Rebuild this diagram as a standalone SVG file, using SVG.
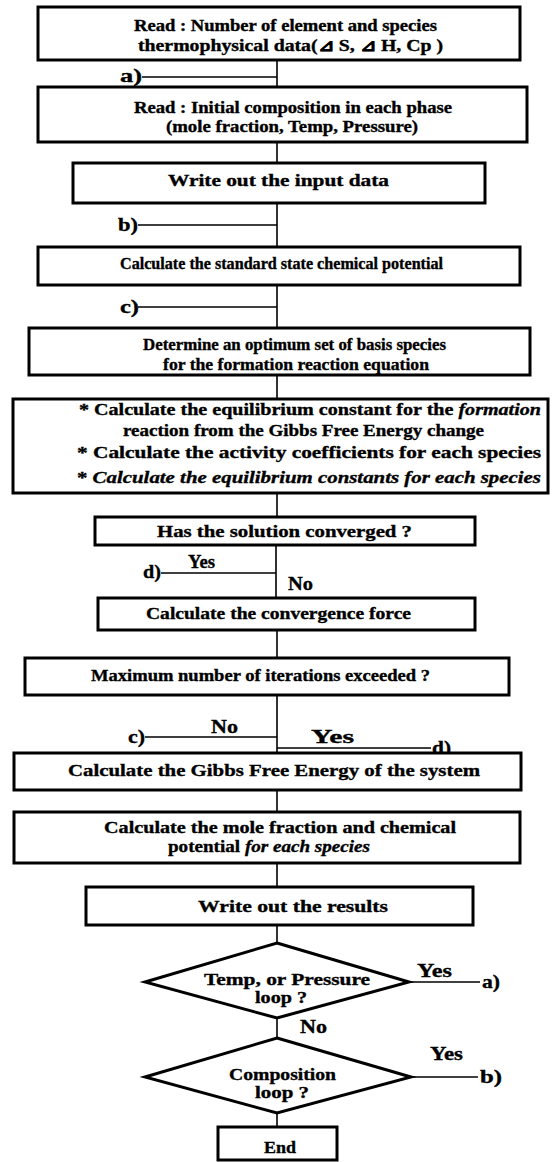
<svg xmlns="http://www.w3.org/2000/svg" width="555" height="1162" viewBox="0 0 555 1162">
<style>
.box{fill:#fff;stroke:#000;stroke-width:3}
.conn{stroke:#000;stroke-width:1.6;fill:none}
.t{font-family:"Liberation Serif","DejaVu Serif",serif;font-weight:bold;font-size:17px;fill:#000;stroke:#000;stroke-width:0.35}
.l{font-size:19px}
.i{font-style:italic}
</style>
<rect width="555" height="1162" fill="#fff"/>
<g id="connectors">
<path class="conn" d="M277 60V87M142 77H277"/>
<path class="conn" d="M277 142V163"/>
<path class="conn" d="M277 203V247M138 225H277"/>
<path class="conn" d="M277 285V328M138 307H277"/>
<path class="conn" d="M277 375V399"/>
<path class="conn" d="M277 493V517"/>
<path class="conn" d="M276 545V598M161 573H276"/>
<path class="conn" d="M277 630V658"/>
<path class="conn" d="M277 695V753M145 737H277M277 748H431"/>
<path class="conn" d="M277 790V812"/>
<path class="conn" d="M277 863V887"/>
<path class="conn" d="M277 925V943"/>
<path class="conn" d="M409 982H480"/>
<path class="conn" d="M277 1018V1038"/>
<path class="conn" d="M411 1077H478"/>
<path class="conn" d="M277 1113V1127"/>
<text class="t l" x="120" y="82" textLength="22" lengthAdjust="spacingAndGlyphs">a)</text>
<text class="t l" x="118" y="231" textLength="20" lengthAdjust="spacingAndGlyphs">b)</text>
<text class="t l" x="120" y="313" textLength="19" lengthAdjust="spacingAndGlyphs">c)</text>
<text class="t l" x="143" y="578" textLength="18" lengthAdjust="spacingAndGlyphs">d)</text>
<text class="t l" x="188" y="568" textLength="27" lengthAdjust="spacingAndGlyphs">Yes</text>
<text class="t l" x="288" y="590" textLength="25" lengthAdjust="spacingAndGlyphs">No</text>
<text class="t l" x="128" y="743" textLength="17" lengthAdjust="spacingAndGlyphs">c)</text>
<text class="t l" x="211" y="733" textLength="27" lengthAdjust="spacingAndGlyphs">No</text>
<text class="t l" x="311" y="743" textLength="43" lengthAdjust="spacingAndGlyphs">Yes</text>
<text class="t l" x="432" y="754" textLength="19" lengthAdjust="spacingAndGlyphs">d)</text>
<text class="t l" x="417" y="977" textLength="35" lengthAdjust="spacingAndGlyphs">Yes</text>
<text class="t l" x="482" y="988" textLength="18" lengthAdjust="spacingAndGlyphs">a)</text>
<text class="t l" x="300" y="1033" textLength="27" lengthAdjust="spacingAndGlyphs">No</text>
<text class="t l" x="430" y="1060" textLength="33" lengthAdjust="spacingAndGlyphs">Yes</text>
<text class="t l" x="480" y="1083" textLength="22" lengthAdjust="spacingAndGlyphs">b)</text>
</g>
<g id="n1">
<rect class="box" x="38" y="7" width="482" height="53"/>
<text class="t" x="134" y="31" textLength="303" lengthAdjust="spacingAndGlyphs">Read : Number of element and species</text>
<text class="t" x="138" y="51" textLength="305" lengthAdjust="spacingAndGlyphs">thermophysical data(⊿ S, ⊿ H, Cp )</text>
</g>
<g id="n2">
<rect class="box" x="38" y="87" width="489" height="55"/>
<text class="t" x="134" y="113" textLength="318" lengthAdjust="spacingAndGlyphs">Read : Initial composition in each phase</text>
<text class="t" x="166" y="132" textLength="252" lengthAdjust="spacingAndGlyphs">(mole fraction, Temp, Pressure)</text>
</g>
<g id="n3">
<rect class="box" x="73" y="163" width="412" height="40"/>
<text class="t" x="168" y="186" textLength="221" lengthAdjust="spacingAndGlyphs">Write out the input data</text>
</g>
<g id="n4">
<rect class="box" x="38" y="247" width="482" height="38"/>
<text class="t" x="120" y="269" textLength="323" lengthAdjust="spacingAndGlyphs">Calculate the standard state chemical potential</text>
</g>
<g id="n5">
<rect class="box" x="29" y="328" width="501" height="47"/>
<text class="t" x="143" y="350" textLength="303" lengthAdjust="spacingAndGlyphs">Determine an optimum set of basis species</text>
<text class="t" x="163" y="370" textLength="266" lengthAdjust="spacingAndGlyphs">for the formation reaction equation</text>
</g>
<g id="n6">
<rect class="box" x="13" y="399" width="535" height="94"/>
<text class="t" x="79" y="415" textLength="462" lengthAdjust="spacingAndGlyphs">* Calculate the equilibrium constant for the <tspan class="i">formation</tspan></text>
<text class="t" x="123" y="436" textLength="361" lengthAdjust="spacingAndGlyphs">reaction from the Gibbs Free Energy change</text>
<text class="t" x="77" y="458" textLength="464" lengthAdjust="spacingAndGlyphs">* Calculate the activity coefficients for each species</text>
<text class="t" x="77" y="483" textLength="464" lengthAdjust="spacingAndGlyphs">* <tspan class="i">Calculate the equilibrium constants for each species</tspan></text>
</g>
<g id="n7">
<rect class="box" x="95" y="517" width="380" height="28"/>
<text class="t" x="157" y="537" textLength="255" lengthAdjust="spacingAndGlyphs">Has the solution converged ?</text>
</g>
<g id="n8">
<rect class="box" x="98" y="598" width="377" height="32"/>
<text class="t" x="146" y="619" textLength="265" lengthAdjust="spacingAndGlyphs">Calculate the convergence force</text>
</g>
<g id="n9">
<rect class="box" x="25" y="658" width="484" height="37"/>
<text class="t" x="91" y="681" textLength="339" lengthAdjust="spacingAndGlyphs">Maximum number of iterations exceeded ?</text>
</g>
<g id="n10">
<rect class="box" x="14" y="753" width="507" height="37"/>
<text class="t" x="68" y="776" textLength="412" lengthAdjust="spacingAndGlyphs">Calculate the Gibbs Free Energy of the system</text>
</g>
<g id="n11">
<rect class="box" x="14" y="812" width="506" height="51"/>
<text class="t" x="104" y="833" textLength="352" lengthAdjust="spacingAndGlyphs">Calculate the mole fraction and chemical</text>
<text class="t" x="168" y="852" textLength="202" lengthAdjust="spacingAndGlyphs">potential <tspan class="i">for each species</tspan></text>
</g>
<g id="n12">
<rect class="box" x="86" y="887" width="387" height="38"/>
<text class="t" x="198" y="912" textLength="190" lengthAdjust="spacingAndGlyphs">Write out the results</text>
</g>
<g id="n13">
<polygon class="box" points="277,943 409,982 277,1018 145,982"/>
<text class="t" x="204" y="985" textLength="166" lengthAdjust="spacingAndGlyphs">Temp, or Pressure</text>
<text class="t" x="255" y="1003" textLength="52" lengthAdjust="spacingAndGlyphs">loop ?</text>
</g>
<g id="n14">
<polygon class="box" points="277,1038 411,1077 277,1113 145,1077"/>
<text class="t" x="229" y="1080" textLength="107" lengthAdjust="spacingAndGlyphs">Composition</text>
<text class="t" x="255" y="1098" textLength="54" lengthAdjust="spacingAndGlyphs">loop ?</text>
</g>
<g id="n15">
<rect class="box" x="218" y="1127" width="119" height="33"/>
<text class="t" x="264" y="1153" textLength="32" lengthAdjust="spacingAndGlyphs">End</text>
</g>
</svg>
